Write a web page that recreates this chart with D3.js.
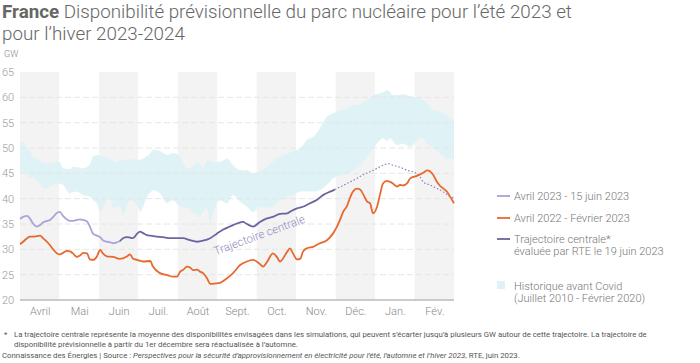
<!DOCTYPE html>
<html>
<head>
<meta charset="utf-8">
<script src="https://cdn.jsdelivr.net/npm/d3@7"></script>
<style>
  body { margin: 0; background: #fff; }
  svg { font-family: Roboto, "Noto Sans", sans-serif; }
</style>
</head>
<body>
<svg width="700" height="363"></svg>
<script>
// months (x = month index since 1 April)
const months = ['Avril', 'Mai', 'Juin', 'Juil.', 'Août', 'Sept.', 'Oct.', 'Nov.', 'Déc.', 'Jan.', 'Fév.'];
const yTicks = [20, 25, 30, 35, 40, 45, 50, 55, 60, 65];

// historique avant Covid : [mois, min, max]
const historique = [
  [0, 45.3, 51.2], [0.08, 45.2, 51.0], [0.18, 45.0, 50.2], [0.25, 44.0, 49.3], [0.33, 44.3, 48.3],
  [0.43, 43.7, 47.8], [0.51, 43.0, 47.3], [0.58, 42.1, 47.2], [0.68, 42.0, 47.0], [0.84, 42.7, 47.1],
  [0.94, 43.0, 47.4], [1.01, 43.0, 47.2], [1.09, 42.7, 46.0], [1.27, 41.0, 45.8], [1.34, 41.3, 46.3],
  [1.44, 41.4, 46.2], [1.6, 40.7, 46.0], [1.77, 40.4, 46.8], [1.85, 39.8, 48.3], [1.95, 39.0, 48.6],
  [2.03, 37.5, 48.4], [2.1, 38.1, 48.3], [2.2, 39.7, 48.1], [2.28, 40.0, 47.9], [2.36, 38.1, 47.5],
  [2.46, 38.5, 47.2], [2.53, 38.4, 47.6], [2.61, 36.8, 47.7], [2.79, 39.7, 47.8], [2.97, 38.7, 47.7],
  [3.04, 37.4, 47.7], [3.22, 40.4, 48.4], [3.3, 41.2, 48.9], [3.37, 41.7, 49.7], [3.55, 41.0, 49.4],
  [3.73, 39.1, 48.6], [3.88, 39.7, 49.0], [4.06, 38.4, 48.3], [4.23, 38.2, 46.0], [4.39, 37.1, 46.3],
  [4.49, 36.8, 47.3], [4.56, 36.4, 46.8], [4.64, 37.5, 46.0], [4.74, 38.1, 47.6], [4.82, 35.1, 47.4],
  [4.89, 37.1, 47.2], [5.07, 39.7, 47.3], [5.25, 39.1, 47.9], [5.4, 40.7, 46.6], [5.58, 39.4, 45.6],
  [5.75, 38.4, 45.6], [5.91, 37.4, 45.0], [6.08, 38.4, 45.4], [6.26, 38.2, 46.3], [6.41, 38.4, 47.3],
  [6.59, 39.7, 48.3], [6.77, 40.4, 48.8], [6.92, 40.7, 49.4], [7.1, 41.4, 49.9], [7.27, 41.4, 51.6],
  [7.43, 41.4, 52.2], [7.6, 41.7, 53.9], [7.78, 42.7, 56.2], [7.93, 44.0, 56.8], [8.11, 44.5, 57.4],
  [8.29, 44.8, 57.8], [8.44, 45.5, 58.5], [8.54, 46.0, 58.5], [8.69, 47.3, 59.0], [8.8, 48.3, 59.4],
  [8.95, 49.9, 60.4], [9.13, 51.6, 60.8], [9.2, 51.9, 61.0], [9.3, 51.4, 61.4], [9.38, 51.9, 61.0],
  [9.45, 51.4, 60.4], [9.56, 50.6, 60.4], [9.71, 50.9, 60.6], [9.89, 50.2, 60.2], [9.96, 50.6, 60.1],
  [10.14, 51.9, 59.8], [10.22, 51.9, 59.4], [10.32, 50.9, 58.8], [10.47, 49.9, 57.5], [10.65, 48.9, 57.2],
  [10.82, 47.9, 56.5], [11, 47.9, 55.2]
];

// Avril 2023 - 15 juin 2023
const avril2023 = [
  [0, 36.0], [0.08, 36.4], [0.18, 36.6], [0.25, 36.1], [0.33, 35.1], [0.43, 34.5], [0.51, 34.8],
  [0.58, 35.3], [0.68, 35.6], [0.76, 35.8], [0.84, 36.4], [0.94, 37.2], [1.01, 37.4], [1.09, 36.6],
  [1.19, 35.9], [1.27, 35.6], [1.34, 35.6], [1.44, 35.8], [1.52, 35.9], [1.6, 35.8], [1.7, 35.5],
  [1.77, 34.5], [1.85, 33.1], [1.95, 32.7], [2.03, 32.4], [2.1, 31.8], [2.2, 31.5], [2.28, 31.4],
  [2.36, 31.2], [2.46, 31.4], [2.53, 31.6]
];

// Avril 2022 - Février 2023
const avril2022 = [
  [0, 31.0], [0.08, 31.5], [0.18, 32.2], [0.25, 32.5], [0.33, 32.5], [0.43, 32.6], [0.51, 32.7],
  [0.58, 32.2], [0.68, 31.5], [0.76, 30.8], [0.84, 30.0], [0.94, 29.2], [1.01, 29.0], [1.09, 29.3],
  [1.19, 29.7], [1.27, 29.6], [1.34, 29.2], [1.44, 28.5], [1.52, 28.8], [1.6, 29.3], [1.7, 29.2],
  [1.77, 28.0], [1.85, 27.9], [1.95, 28.6], [2.03, 29.9], [2.1, 29.2], [2.2, 28.6], [2.36, 28.5],
  [2.53, 28.1], [2.71, 28.6], [2.79, 29.0], [2.86, 28.2], [2.97, 27.9], [3.12, 27.6], [3.3, 27.7],
  [3.37, 26.6], [3.55, 25.3], [3.73, 24.9], [3.88, 24.6], [3.98, 24.6], [4.06, 25.6], [4.13, 25.9],
  [4.23, 26.6], [4.31, 26.4], [4.39, 25.9], [4.49, 26.0], [4.56, 25.6], [4.64, 25.3], [4.74, 24.3],
  [4.82, 23.2], [4.89, 23.2], [4.99, 23.3], [5.07, 23.4], [5.25, 24.3], [5.4, 25.3], [5.58, 26.9],
  [5.75, 27.6], [5.91, 27.9], [6.08, 27.1], [6.16, 26.6], [6.26, 27.5], [6.41, 29.2], [6.51, 28.5],
  [6.59, 27.6], [6.77, 29.5], [6.84, 30.2], [6.92, 29.2], [7.02, 28.0], [7.1, 28.1], [7.17, 29.5],
  [7.27, 30.2], [7.43, 30.5], [7.6, 31.2], [7.78, 31.8], [7.93, 33.1], [8.04, 34.6], [8.11, 35.8],
  [8.19, 37.4], [8.29, 38.6], [8.36, 40.1], [8.44, 41.4], [8.54, 42.0], [8.62, 41.8], [8.69, 41.0],
  [8.8, 39.4], [8.87, 39.1], [8.95, 37.1], [9.05, 38.4], [9.13, 41.0], [9.2, 43.0], [9.3, 43.5],
  [9.38, 43.3], [9.45, 43.0], [9.56, 42.4], [9.63, 42.7], [9.71, 42.6], [9.81, 43.0], [9.89, 44.0],
  [10.06, 44.5], [10.22, 45.1], [10.32, 45.6], [10.39, 45.4], [10.47, 44.7], [10.57, 43.3],
  [10.65, 42.5], [10.82, 41.4], [10.9, 40.4], [11, 39.1]
];

// Trajectoire centrale (RTE, 19 juin 2023), pleine jusqu'au 1er décembre
const trajectoire = [
  [2.53, 31.6], [2.61, 32.2], [2.71, 32.4], [2.79, 32.3], [2.86, 32.2], [2.97, 33.1], [3.04, 33.5],
  [3.12, 33.2], [3.22, 32.8], [3.3, 32.7], [3.47, 32.5], [3.62, 32.4], [3.8, 32.2], [3.98, 32.2],
  [4.13, 32.2], [4.31, 31.8], [4.49, 31.5], [4.64, 31.7], [4.82, 32.2], [4.99, 33.1], [5.15, 33.9],
  [5.32, 34.5], [5.5, 35.1], [5.65, 35.4], [5.75, 35.0], [5.91, 34.5], [6.08, 35.4], [6.26, 36.1],
  [6.41, 36.4], [6.59, 37.0], [6.77, 37.1], [6.84, 37.4], [7.02, 38.1], [7.17, 38.4], [7.35, 39.1],
  [7.53, 39.8], [7.68, 40.7], [7.86, 41.4], [7.98, 41.8]
];
const trajectoireHiver = [
  [7.98, 41.8], [8.11, 42.3], [8.29, 43.0], [8.54, 44.0], [8.69, 44.7], [8.87, 45.3], [9.05, 46.0],
  [9.2, 46.6], [9.33, 46.9], [9.45, 46.6], [9.63, 46.2], [9.81, 45.6], [9.96, 45.3], [10.14, 44.3],
  [10.22, 43.3], [10.39, 42.7], [10.57, 42.0], [10.72, 41.4], [10.9, 40.4], [11, 40.1]
];

const svg = d3.select('svg');

const x = d3.scaleLinear().domain([0, 11]).range([20, 454]);
const y = d3.scaleLinear().domain([20, 65]).range([300, 72]);

// bandes de mois
svg.append('g').selectAll('rect')
  .data(months)
  .join('rect')
    .attr('x', (d, i) => x(i))
    .attr('y', y(65))
    .attr('width', x(1) - x(0))
    .attr('height', y(20) - y(65))
    .attr('fill', (d, i) => i % 2 === 0 ? '#f3f3f3' : '#fff');

// historique
const area = d3.area()
  .x(d => x(d[0]))
  .y0(d => y(d[1]))
  .y1(d => y(d[2]))
  .curve(d3.curveMonotoneX);
svg.append('path')
  .attr('d', area(historique))
  .attr('fill', '#dff2f5');

// grille
svg.append('g').selectAll('line')
  .data(yTicks.filter(d => d > 20 && d < 65))
  .join('line')
    .attr('x1', x(0))
    .attr('x2', x(11))
    .attr('y1', d => y(d))
    .attr('y2', d => y(d))
    .attr('stroke', '#e6e6e6')
    .attr('stroke-width', 1)
    .attr('stroke-dasharray', '6,3');

// axe y
const yAxis = svg.append('g')
  .call(d3.axisRight(y).tickValues(yTicks).tickSize(0).tickPadding(2));
yAxis.select('.domain').remove();
yAxis.selectAll('text')
  .attr('font-size', 11)
  .attr('font-weight', 300)
  .attr('fill', '#999')
  .attr('font-family', 'Roboto');

svg.append('text')
  .attr('x', 4).attr('y', 57)
  .attr('font-size', 9).attr('font-weight', 300)
  .attr('fill', '#888')
  .text('GW');

// axe x
const xAxis = svg.append('g')
  .attr('transform', `translate(0,${y(20)})`)
  .call(d3.axisBottom(x)
    .tickValues(months.map((d, i) => i + 0.5))
    .tickFormat((d, i) => months[i])
    .tickSize(0).tickPadding(7));
xAxis.select('.domain').remove();
xAxis.selectAll('text')
  .attr('font-size', 11)
  .attr('font-weight', 300)
  .attr('fill', '#888')
  .attr('font-family', 'Roboto');

svg.append('line')
  .attr('x1', x(0)).attr('x2', x(11))
  .attr('y1', y(20)).attr('y2', y(20))
  .attr('stroke', '#bbb')
  .attr('stroke-width', 1.5);

// courbes
const line = d3.line()
  .x(d => x(d[0]))
  .y(d => y(d[1]))
  .curve(d3.curveMonotoneX);

svg.append('path')
  .attr('d', line(trajectoireHiver))
  .attr('fill', 'none')
  .attr('stroke', '#8882b8')
  .attr('stroke-width', 1.2)
  .attr('stroke-dasharray', '1.5,2');

svg.append('path')
  .attr('d', line(avril2022))
  .attr('fill', 'none')
  .attr('stroke', '#e8692e')
  .attr('stroke-width', 1.8);

svg.append('path')
  .attr('d', line(avril2023))
  .attr('fill', 'none')
  .attr('stroke', '#aca2da')
  .attr('stroke-width', 1.8);

svg.append('path')
  .attr('d', line(trajectoire))
  .attr('fill', 'none')
  .attr('stroke', '#6c63a3')
  .attr('stroke-width', 1.8);

// étiquette trajectoire
svg.append('text')
  .attr('transform', `translate(${x(6.1)},${y(32.1)}) rotate(-20)`)
  .attr('text-anchor', 'middle')
  .attr('font-size', 11.5)
  .attr('font-weight', 300)
  .attr('fill', '#948cc2')
  .text('Trajectoire centrale');

// titre
const title = svg.append('text')
  .attr('x', 2).attr('y', 18)
  .attr('font-size', 18.8)
  .attr('fill', '#666');
title.append('tspan').attr('font-weight', 700).text('France');
title.append('tspan').attr('font-weight', 300).text(' Disponibilité prévisionnelle du parc nucléaire pour l’été 2023 et');
svg.append('text')
  .attr('x', 2).attr('y', 40)
  .attr('font-size', 18.8)
  .attr('font-weight', 300)
  .attr('fill', '#666')
  .text('pour l’hiver 2023-2024');

// légende
const legend = [
  { label: ['Avril 2023 - 15 juin 2023'], color: '#aca2da', y: 196 },
  { label: ['Avril 2022 - Février 2023'], color: '#e8692e', y: 218 },
  { label: ['Trajectoire centrale*', 'évaluée par RTE le 19 juin 2023'], color: '#6c63a3', y: 239 }
];
const lg = svg.append('g');
legend.forEach(d => {
  lg.append('line')
    .attr('x1', 497).attr('x2', 510)
    .attr('y1', d.y).attr('y2', d.y)
    .attr('stroke', d.color).attr('stroke-width', 1.8);
  d.label.forEach((t, j) => {
    lg.append('text')
      .attr('x', 514).attr('y', d.y + 4 + j * 12)
      .attr('font-size', 11).attr('font-weight', 300)
      .attr('fill', '#777')
      .text(t);
  });
});
lg.append('rect')
  .attr('x', 497).attr('y', 281)
  .attr('width', 8).attr('height', 8)
  .attr('fill', '#dff2f5');
lg.append('text')
  .attr('x', 514).attr('y', 290)
  .attr('font-size', 11).attr('font-weight', 300).attr('fill', '#777')
  .text('Historique avant Covid');
lg.append('text')
  .attr('x', 514).attr('y', 302)
  .attr('font-size', 11).attr('font-weight', 300).attr('fill', '#777')
  .text('(Juillet 2010 - Février 2020)');

// notes
const note = svg.append('g').attr('font-size', 7.8).attr('fill', '#555');
note.append('text').attr('x', 4).attr('y', 337).text('*');
note.append('text').attr('x', 14).attr('y', 337)
  .text('La trajectoire centrale représente la moyenne des disponibilités envisagées dans les simulations, qui peuvent s’écarter jusqu’à plusieurs GW autour de cette trajectoire. La trajectoire de');
note.append('text').attr('x', 14).attr('y', 347)
  .text('disponibilité prévisionnelle à partir du 1er décembre sera réactualisée à l’automne.');
const src = note.append('text').attr('x', 2).attr('y', 358);
src.append('tspan').text('Connaissance des Énergies | Source : ');
src.append('tspan').attr('font-style', 'italic')
  .text('Perspectives pour la sécurité d’approvisionnement en électricité pour l’été, l’automne et l’hiver 2023');
src.append('tspan').text(', RTE, juin 2023.');
</script>
</body>
</html>
